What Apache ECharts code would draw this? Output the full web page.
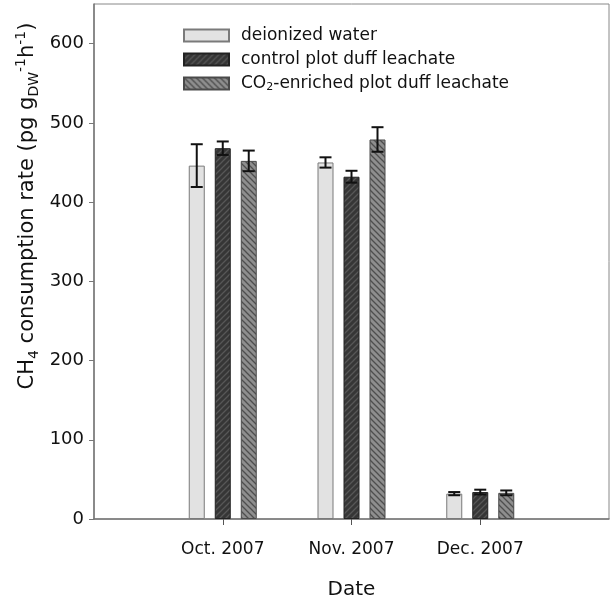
<!DOCTYPE html>
<html>
<head>
<meta charset="UTF-8">
<title>CH4 consumption</title>
<script src="https://cdn.jsdelivr.net/npm/echarts@6/dist/echarts.min.js"></script>
<style>
  html, body { margin: 0; padding: 0; background: #fff; }
  #chart { width: 612px; height: 609px; }
</style>
</head>
<body>
<div id="chart"></div>
<script>
// categories (empty slots at both ends so the three dates sit on the 1/4 grid lines)
var dates = ['', 'Oct. 2007', 'Nov. 2007', 'Dec. 2007', ''];
var seriesNames = ['deionized water', 'control plot duff leachate', 'CO2-enriched plot duff leachate'];

// means and standard errors (Oct, Nov, Dec)
var waterMean = [446, 450, 32];
var waterErr = [27, 6.5, 2];
var controlMean = [468, 432, 34];
var controlErr = [8.5, 7.5, 3];
var co2Mean = [452, 479, 33];
var co2Err = [13, 15.5, 3];

var yTicks = [0, 100, 200, 300, 400, 500, 600];

// hatch patterns
function hatch(bg, fg, dir) {
  var c = document.createElement('canvas');
  c.width = 6; c.height = 6;
  var ctx = c.getContext('2d');
  ctx.fillStyle = bg;
  ctx.fillRect(0, 0, 6, 6);
  ctx.strokeStyle = fg;
  ctx.lineWidth = 1.3;
  ctx.beginPath();
  if (dir === '/') {
    ctx.moveTo(-1, 7); ctx.lineTo(7, -1);
    ctx.moveTo(-1, 1); ctx.lineTo(1, -1);
    ctx.moveTo(5, 7); ctx.lineTo(7, 5);
  } else {
    ctx.moveTo(-1, -1); ctx.lineTo(7, 7);
    ctx.moveTo(5, -1); ctx.lineTo(7, 1);
    ctx.moveTo(-1, 5); ctx.lineTo(1, 7);
  }
  ctx.stroke();
  return { image: c, repeat: 'repeat' };
}

var darkPattern = hatch('#363636', '#575757', '/');
var greyPattern = hatch('#8e8e8e', '#4e4e4e', '\\');

function pad(arr) {
  return ['-'].concat(arr).concat(['-']);
}

function errData(mean, err) {
  return mean.map(function (m, i) {
    return [i + 1, m - err[i], m + err[i]];
  });
}

function errSeries(mean, err, offset) {
  return {
    type: 'custom',
    silent: true,
    z: 5,
    data: errData(mean, err),
    encode: { x: 0, y: [1, 2] },
    renderItem: function (params, api) {
      var top = api.coord([api.value(0), api.value(2)]);
      var bot = api.coord([api.value(0), api.value(1)]);
      var x = top[0] + offset;
      var hw = 6;
      var st = { stroke: '#111', lineWidth: 2 };
      return {
        type: 'group',
        children: [
          { type: 'line', shape: { x1: x, y1: top[1], x2: x, y2: bot[1] }, style: st },
          { type: 'line', shape: { x1: x - hw, y1: top[1], x2: x + hw, y2: top[1] }, style: st },
          { type: 'line', shape: { x1: x - hw, y1: bot[1], x2: x + hw, y2: bot[1] }, style: st }
        ]
      };
    }
  };
}

var font = 'DejaVu Sans';
var chart = echarts.init(document.getElementById('chart'));

var option = {
  animation: false,
  textStyle: { fontFamily: font },
  grid: {
    left: 94, right: 1, top: 4, bottom: 90,
    show: true, borderColor: '#888', borderWidth: 1
  },
  legend: {
    orient: 'vertical',
    left: 178,
    top: 22,
    icon: 'rect',
    itemWidth: 45,
    itemHeight: 12,
    itemGap: 7,
    data: seriesNames,
    textStyle: {
      fontSize: 17, color: '#111', fontFamily: font,
      rich: {
        n: { fontSize: 17, color: '#111', fontFamily: font, lineHeight: 19 },
        g: { fontSize: 17, color: '#111', fontFamily: font, lineHeight: 19, padding: [0, 0, 0, 7] },
        s: { fontSize: 11, color: '#111', fontFamily: font, lineHeight: 10, verticalAlign: 'bottom' }
      }
    },
    formatter: function (name) {
      if (name.indexOf('CO2') === 0) {
        return '{g|CO}{s|2}{n|' + name.slice(3) + '}';
      }
      return '{g|' + name + '}';
    }
  },
  xAxis: {
    type: 'category',
    data: dates,
    boundaryGap: false,
    axisLine: { lineStyle: { color: '#777', width: 1.5 } },
    axisTick: {
      show: true, length: 6, inside: false,
      interval: function (i) { return i >= 1 && i <= 3; },
      lineStyle: { color: '#555' }
    },
    axisLabel: { fontSize: 17, color: '#111', margin: 22, interval: 0 },
    name: 'Date',
    nameLocation: 'middle',
    nameGap: 61,
    nameTextStyle: { fontSize: 20, color: '#111' },
    splitLine: { show: false }
  },
  yAxis: {
    type: 'value',
    min: 0,
    max: 650,
    interval: 100,
    axisLine: { show: true, lineStyle: { color: '#777', width: 1.5 } },
    axisTick: { show: true, length: 5, inside: false, lineStyle: { color: '#777' } },
    axisLabel: {
      fontSize: 18, color: '#111', margin: 10, showMaxLabel: false,
      formatter: function (v) { return yTicks.indexOf(v) >= 0 ? String(v) : ''; }
    },
    splitLine: { show: false }
  },
  graphic: [{
    type: 'text',
    x: 28,
    y: 206,
    rotation: Math.PI / 2,
    style: {
      text: '{n|CH}{s|4}{n| consumption rate (pg g}{s|DW}{p|-1}{n|h}{p|-1}{n|)}',
      align: 'center',
      verticalAlign: 'middle',
      fill: '#111',
      rich: {
        n: { fontSize: 21, fontFamily: font, lineHeight: 27, fill: '#111' },
        s: { fontSize: 14, fontFamily: font, lineHeight: 14, verticalAlign: 'bottom', fill: '#111' },
        p: { fontSize: 14, fontFamily: font, lineHeight: 14, verticalAlign: 'top', fill: '#111' }
      }
    }
  }],
  series: [
    {
      name: seriesNames[0], type: 'bar',
      barWidth: 16, barGap: '62.5%',
      data: pad(waterMean),
      itemStyle: { color: '#e2e2e2', borderColor: '#7a7a7a', borderWidth: 1 }
    },
    {
      name: seriesNames[1], type: 'bar',
      barWidth: 16, barGap: '62.5%',
      data: pad(controlMean),
      itemStyle: { color: darkPattern, borderColor: '#222', borderWidth: 1 }
    },
    {
      name: seriesNames[2], type: 'bar',
      barWidth: 16, barGap: '62.5%',
      data: pad(co2Mean),
      itemStyle: { color: greyPattern, borderColor: '#4a4a4a', borderWidth: 1 }
    },
    errSeries(waterMean, waterErr, -26),
    errSeries(controlMean, controlErr, 0),
    errSeries(co2Mean, co2Err, 26)
  ]
};

chart.setOption(option);
</script>
</body>
</html>
